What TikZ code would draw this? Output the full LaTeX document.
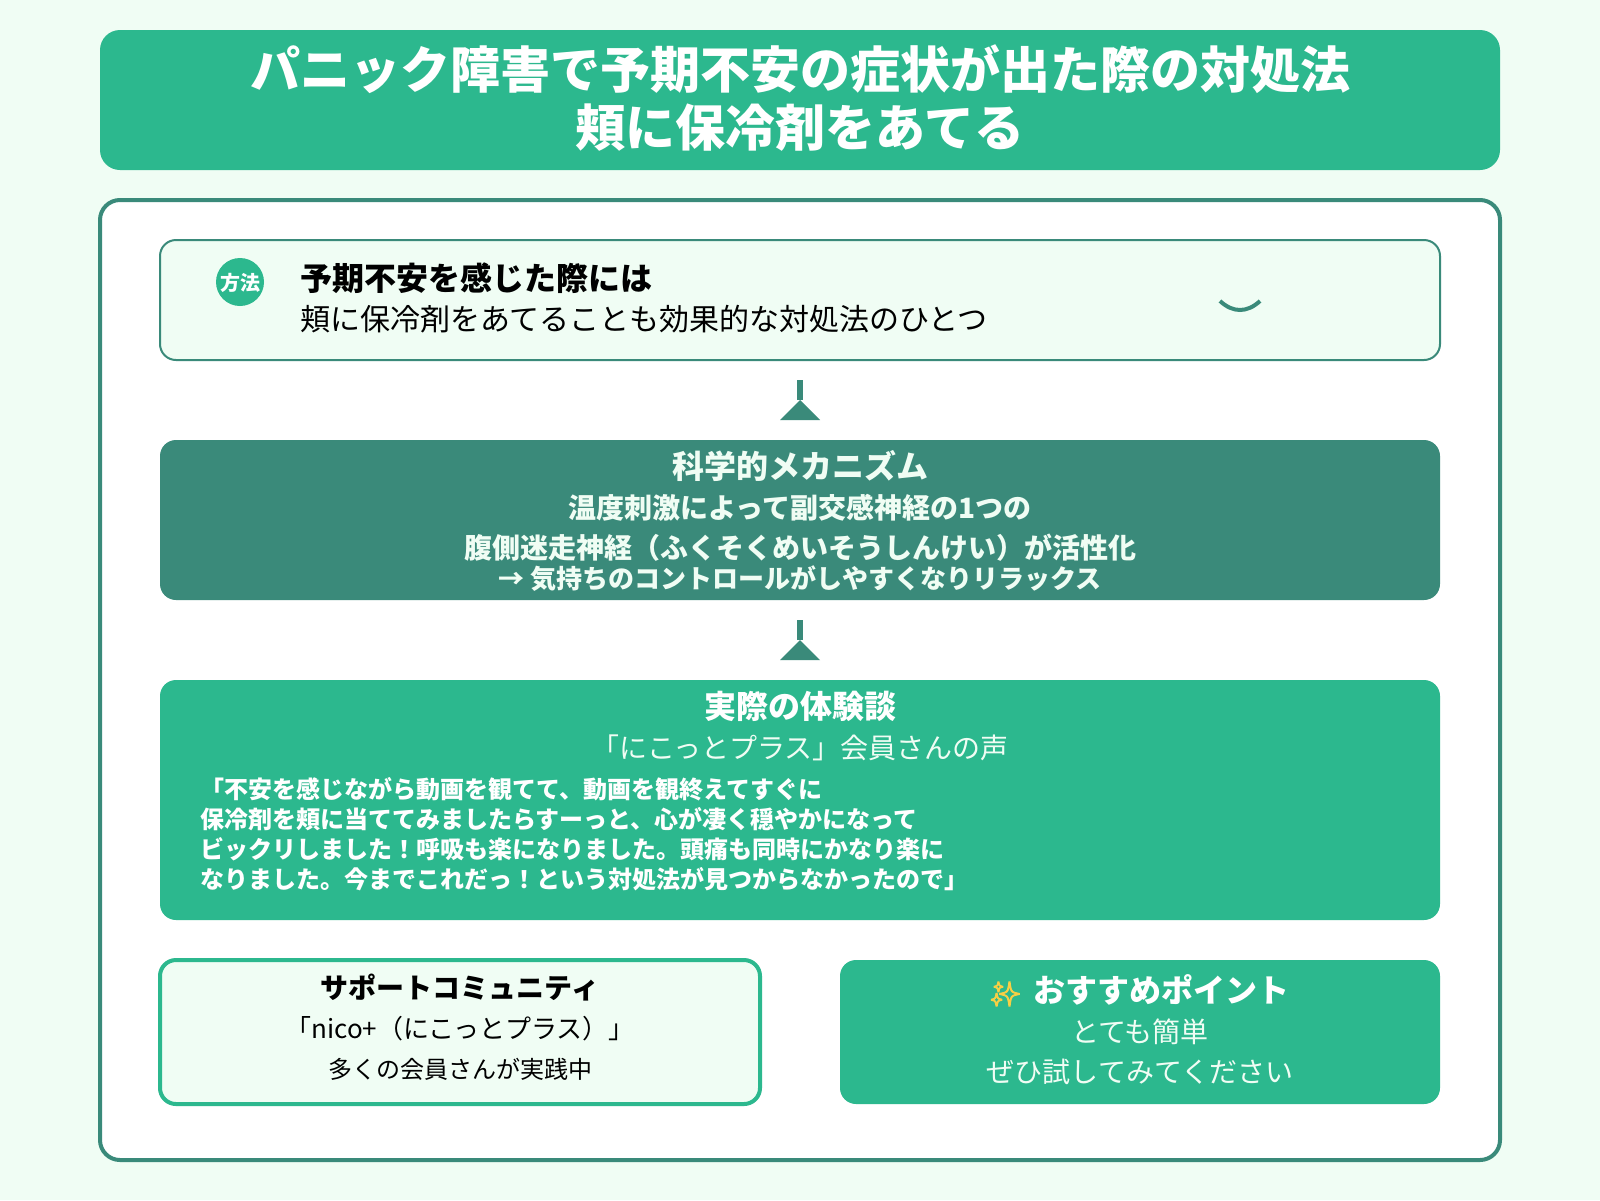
\documentclass[tikz,border=0pt]{standalone}
\usepackage{fontspec}
\setmainfont{Noto Sans CJK JP}
\newfontfamily\emojifont[FakeBold=4]{Noto Emoji}
\definecolor{pagebg}{HTML}{F0FDF4}
\definecolor{leafgreen}{HTML}{2CB88E}
\definecolor{deepgreen}{HTML}{3A8A7A}
\definecolor{sparkle}{HTML}{F7CF45}
\tikzset{
	box/.style={inner sep=0pt,outer sep=0pt,rounded corners=#1},
	plain/.style={inner sep=0pt,text height=0.88*#1 pt,text depth=0.12*#1 pt,font=\fontsize{#1}{#1}\selectfont},
	heavy/.style={inner sep=0pt,text height=0.88*#1 pt,text depth=0.12*#1 pt,font=\bfseries\fontsize{#1}{#1}\selectfont},
	flowstem/.style={deepgreen,line width=3pt},
	flowhead/.style={fill=deepgreen}
}

\begin{document}
\begin{tikzpicture}[x=0.5pt,y=-0.5pt]
	\useasboundingbox (0,0) rectangle (1600,1200);
	\fill [pagebg] (0,0) rectangle (1600,1200);
	% header
	\node (header) [box=10pt,fill=leafgreen,minimum width=700pt,minimum height=70pt] at (800,100) {};
	\node (title1) [heavy=25,text=white] at (800,69) {パニック障害で予期不安の症状が出た際の対処法};
	\node (title2) [heavy=25,text=white] at (800,127) {頬に保冷剤をあてる};
	% panel
	\node (panel) [box=10pt,draw=deepgreen,line width=2pt,fill=white,minimum width=700pt,minimum height=480pt] at (800,680) {};
	% method
	\node (method) [box=8pt,draw=deepgreen,line width=1pt,fill=pagebg,minimum width=640pt,minimum height=60pt] at (800,300) {};
	\node (badge) [circle,fill=leafgreen,minimum size=24pt,inner sep=0pt] at (240,282) {};
	\node (badgetxt) [heavy=10,text=white] at (240,283) {方法};
	\node (method1) [heavy=16,anchor=west] at (300,278) {予期不安を感じた際には};
	\node (method2) [plain=15,anchor=west] at (300,319) {頬に保冷剤をあてることも効果的な対処法のひとつ};
	\coordinate (smileL) at (1220,301);
	\coordinate (smileR) at (1260,301);
	\draw [deepgreen,line width=2pt] (smileL) .. controls (1233,313) and (1247,313) .. (smileR);
	% mechanism
	\node (mech) [box=8pt,fill=deepgreen,minimum width=640pt,minimum height=80pt] at (800,520) {};
	\node (mech1) [heavy=16,text=pagebg] at (800,466) {科学的メカニズム};
	\node (mech2) [heavy=14,text=pagebg] at (800,508) {温度刺激によって副交感神経の1つの};
	\node (mech3) [heavy=14,text=pagebg] at (800,548) {腹側迷走神経（ふくそくめいそうしんけい）が活性化};
	\node (mech4) [heavy=13,text=pagebg] at (800,579) {→ 気持ちのコントロールがしやすくなりリラックス};
	% voice
	\node (voice) [box=8pt,fill=leafgreen,minimum width=640pt,minimum height=120pt] at (800,800) {};
	\node (voice1) [heavy=16,text=white] at (800,706) {実際の体験談};
	\node (voice2) [plain=14,text=pagebg] at (800,748) {「にこっとプラス」会員さんの声};
	\node (quote1) [heavy=12,text=white,anchor=west] at (200,789) {「不安を感じながら動画を観てて、動画を観終えてすぐに};
	\node (quote2) [heavy=12,text=white,anchor=west] at (200,819) {保冷剤を頬に当ててみましたらすーっと、心が凄く穏やかになって};
	\node (quote3) [heavy=12,text=white,anchor=west] at (200,849) {ビックリしました！呼吸も楽になりました。頭痛も同時にかなり楽に};
	\node (quote4) [heavy=12,text=white,anchor=west] at (200,879) {なりました。今までこれだっ！という対処法が見つからなかったので」};
	% support
	\node (support) [box=8pt,draw=leafgreen,line width=2pt,fill=pagebg,minimum width=300pt,minimum height=72pt] at (460,1032) {};
	\node (support1) [heavy=14] at (460,988) {サポートコミュニティ};
	\node (support2) [plain=13] at (460,1029) {「nico+（にこっとプラス）」};
	\node (support3) [plain=12] at (460,1069) {多くの会員さんが実践中};
	% recommend
	\node (recommend) [box=8pt,fill=leafgreen,minimum width=300pt,minimum height=72pt] at (1140,1032) {};
	\node (recommend1) [heavy=16,text=white] at (1140,990) {{\emojifont\fontsize{12}{12}\selectfont\textcolor{sparkle}{✨}}\kern3pt{} おすすめポイント};
	\node (recommend2) [plain=14,text=pagebg] at (1140,1032) {とても簡単};
	\node (recommend3) [plain=14,text=pagebg] at (1140,1072) {ぜひ試してみてください};
	% arrows
	\draw [flowstem,shorten <=10pt,shorten >=20pt] (method.south) -- (mech.north);
	\fill [flowhead] (780,420) -- (800,400) -- (820,420) -- cycle;
	\draw [flowstem,shorten <=10pt,shorten >=20pt] (mech.south) -- (voice.north);
	\fill [flowhead] (780,660) -- (800,640) -- (820,660) -- cycle;
\end{tikzpicture}
\end{document}
